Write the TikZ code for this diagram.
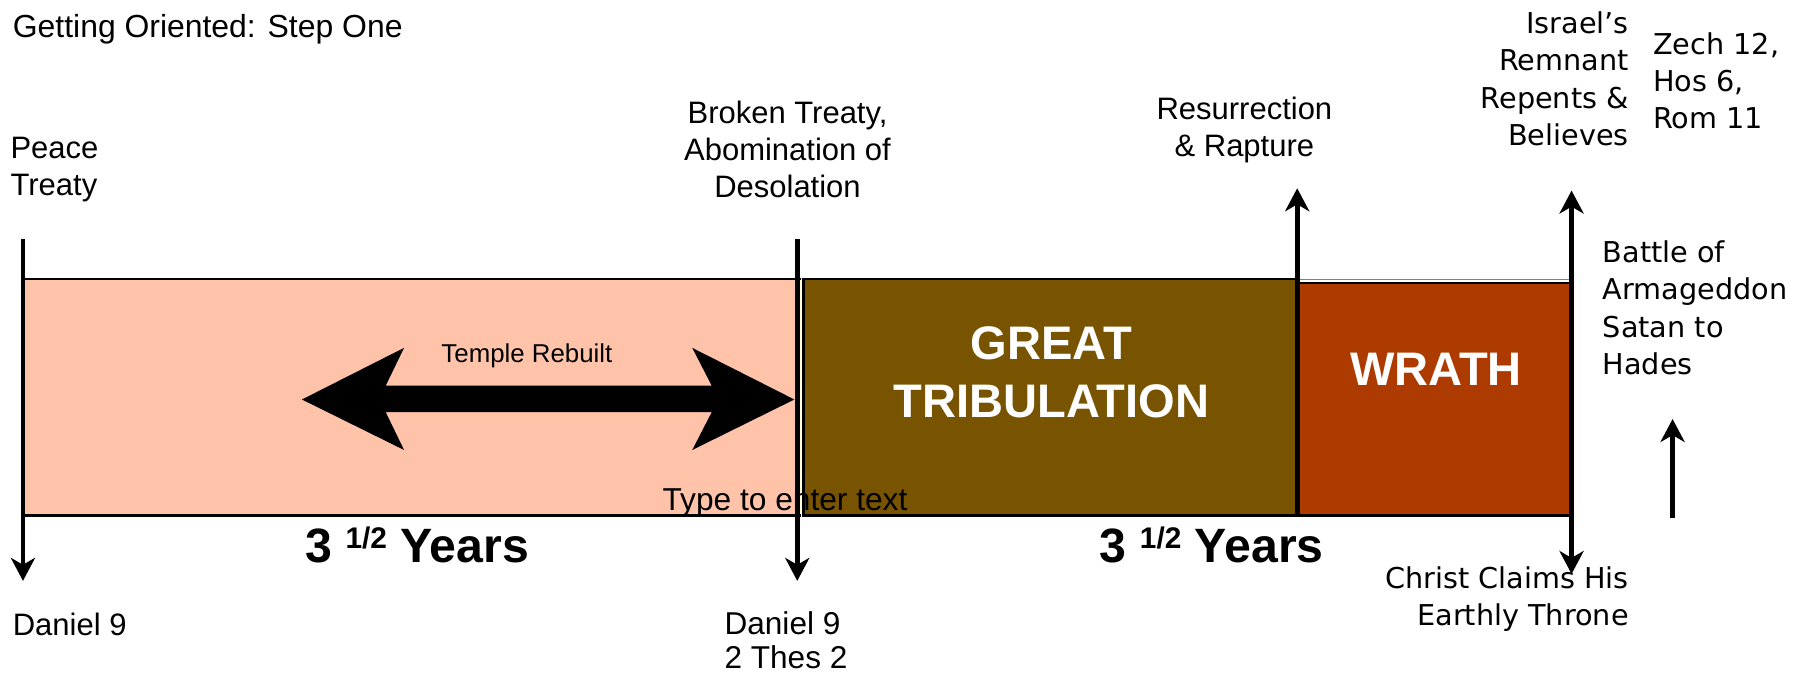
\documentclass[tikz,border=0pt]{standalone}
\usepackage{fontspec}
\setmainfont{Liberation Sans}
\newfontfamily\dvfont{DejaVu Sans}
\usetikzlibrary{arrows.meta}
\definecolor{pinkbox}{HTML}{FFC3AA}
\definecolor{tribbrown}{HTML}{785400}
\definecolor{wrathred}{HTML}{AD3B00}
\definecolor{gapyellow}{HTML}{FFFFD8}
\tikzset{
  lbl/.style={inner sep=0pt, font=\fontsize{27}{32.3}\selectfont},
  dvl/.style={inner sep=0pt, font=\dvfont\fontsize{25}{32.5}\selectfont},
  big/.style={inner sep=0pt, text=white, font=\bfseries\fontsize{41}{50}\selectfont},
  years/.style={inner sep=0pt, font=\bfseries\fontsize{42}{42}\selectfont},
  boxline/.style={draw=black, line width=2pt},
  vline/.style={line width=4pt},
  tipa/.tip={Stealth[length=20pt,width=21pt,inset=6pt]},
}
\newcommand{\halfyrs}{3 \raisebox{12pt}{\fontsize{26}{26}\selectfont 1/2} Years}
\begin{document}
\begin{tikzpicture}[x=1pt,y=-1pt]
\useasboundingbox[fill=white] (0,0) rectangle (1568,587);

% boxes
\draw[boxline, fill=pinkbox] (20,243) rectangle (697,449);
\fill[gapyellow] (696,244) rectangle (700,448);
\draw[boxline, fill=tribbrown] (700,243) rectangle (1130,449);
\draw[draw=gray, line width=1.5pt] (1130,243.5) -- (1369,243.5);
\draw[boxline, fill=wrathred] (1130,246.5) rectangle (1369,449);

% double arrow
\fill[black] (263,348) -- (352,303) -- (336,336) -- (620,336) -- (603,303)
  -- (692,348) -- (603,392) -- (620,359) -- (336,359) -- (352,392) -- cycle;
\node[inner sep=0pt, font=\fontsize{22.5}{27}\selectfont, anchor=base] (temple) at (459,316) {Temple Rebuilt};

% box texts
\node[big, align=center, anchor=north] (great) at (916,284.6) {GREAT\\TRIBULATION};
\node[big, anchor=base] (wrath) at (1251,336) {WRATH};
\node[years, anchor=base] (yrs1) at (363.5,490) {\halfyrs};
\node[years, anchor=base] (yrs2) at (1055.5,490) {\halfyrs};

% labels
\node[lbl, anchor=base west, font=\fontsize{27.8}{32}\selectfont] (title) at (11,33) {Getting Oriented: Step One};
\node[lbl, align=left, anchor=north west] (peace) at (9,119.6) {Peace\\Treaty};
\node[lbl, align=center, anchor=north] (broken) at (686,87.6) {Broken Treaty,\\Abomination of\\Desolation};
\node[lbl, align=center, anchor=north] (resur) at (1084,84.6) {Resurrection\\\& Rapture};
\node[dvl, align=right, anchor=north east] (israel) at (1419,10) {Israel’s\\Remnant\\Repents \&\\Believes};
\node[dvl, align=left, anchor=north west] (zech) at (1440,28) {Zech 12,\\Hos 6,\\Rom 11};
\node[dvl, align=left, anchor=north west] (battle) at (1396,209.5) {Battle of\\Armageddon\\Satan to\\Hades};
\node[dvl, align=right, anchor=north east] (christ) at (1419,493.5) {Christ Claims His\\Earthly Throne};
\node[lbl, anchor=base west] (dan1) at (11,554) {Daniel 9};
\node[lbl, align=left, anchor=north west, font=\fontsize{27.5}{30}\selectfont] (dan2) at (631,532.6) {Daniel 9\\2 Thes 2};
\node[inner sep=0pt, font=\fontsize{27.6}{30}\selectfont, anchor=base west] (type) at (577,445) {Type to enter text};

% vertical lines
\coordinate (l1t) at (20,208);   \coordinate (l1b) at (20,506);
\coordinate (l2t) at (694.5,208); \coordinate (l2b) at (694.5,506);
\coordinate (l3t) at (1130,164);  \coordinate (l3b) at (1130,449);
\coordinate (l4t) at (1369,166);  \coordinate (l4b) at (1369,500);
\coordinate (l5t) at (1457,365);  \coordinate (l5b) at (1457,451);
\draw[vline, -tipa] (l1t) -- (l1b);
\draw[vline, -tipa] (l2t) -- (l2b);
\draw[vline, -tipa] (l3b) -- (l3t);
\draw[vline, tipa-tipa] (l4b) -- (l4t);
\draw[vline, -tipa] (l5b) -- (l5t);
\end{tikzpicture}
\end{document}
